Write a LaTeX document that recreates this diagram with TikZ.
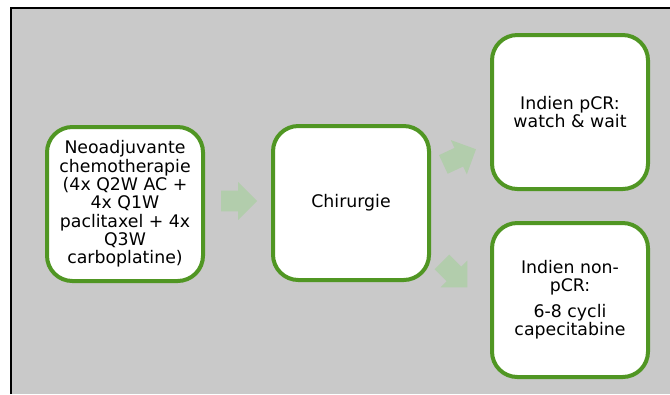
\documentclass[tikz,border=0pt]{standalone}
\usepackage{xcolor}
\usepackage{tikz}
\usepackage{fontspec}
\setmainfont{DejaVu Sans}
\usetikzlibrary{shapes.arrows}

\definecolor{boxgreen}{RGB}{80,150,35}
\definecolor{flowgreen}{RGB}{178,205,172}
\definecolor{panelgray}{RGB}{201,201,201}

\begin{document}
\begin{tikzpicture}[x=0.75pt, y=-0.75pt,
                        box/.style={rectangle, rounded corners=19pt, draw=boxgreen, line width=3pt, fill=white,
                            minimum width=117pt, minimum height=115.5pt, align=center, inner sep=2pt,
                            font=\fontsize{13pt}{13.7pt}\selectfont},
                        flow/.style={single arrow, fill=flowgreen, minimum height=27pt,
                            single arrow head extend=6.5pt, inner sep=7.5pt}]
                        \useasboundingbox (0, 0) rectangle (670, 394);
                        \fill[white] (0, 0) rectangle (670, 394);
                        \fill[panelgray] (11, 8) rectangle (670, 394);
                        \draw[line width=1.5pt] (11, 394) -- (11, 8) -- (670, 8);

                        \node (neo) at (125, 204) [box] {Neoadjuvante\\chemotherapie\\(4x Q2W AC +\\4x Q1W\\paclitaxel + 4x\\Q3W\\carboplatine)};
                        \node (chir) at (351, 203) [box] {Chirurgie};
                        \node (pcr) at (570, 112) [box] {Indien pCR:\\watch \& wait};
                        \node (nonpcr) at (570, 300) [box] {Indien non-\\pCR:\\[5.5pt]6-8 cycli\\capecitabine};

                        \node (a1) at (234, 201) [flow] {};
                        \node (a2) at (455, 159) [flow, rotate=25] {};
                        \node (a3) at (451, 271) [flow, rotate=-45] {};
                    \end{tikzpicture}
\end{document}
